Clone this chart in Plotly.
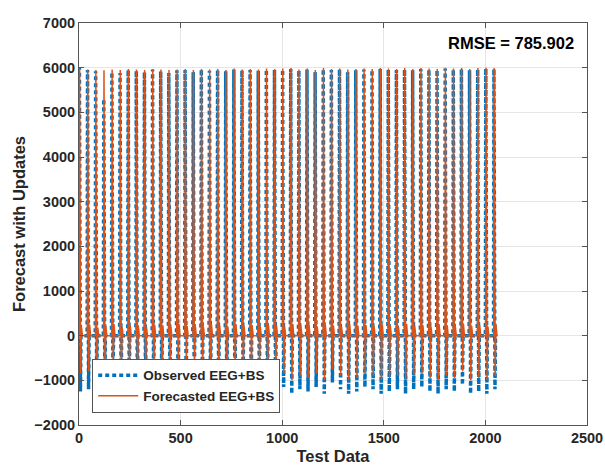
import plotly.graph_objects as go

# ---- data ----
spike_x = [0, 40, 80, 120, 160, 200, 240, 280, 320, 360, 400, 440, 480, 520, 560, 600,
           640, 680, 720, 760, 800, 840, 880, 920, 960, 1000, 1040, 1080, 1120, 1160, 1200,
           1240, 1280, 1320, 1360, 1400, 1440, 1480, 1520, 1560, 1600, 1640, 1680, 1720,
           1760, 1800, 1840, 1880, 1920, 1960, 2000, 2040]
obs_peak = [6000, 5950, 5920, 5300, 5900, 5880, 5950, 5930, 5900, 5960, 5920, 5880, 5940,
            5950, 5900, 5960, 5930, 5950, 5920, 5960, 5940, 5950, 5930, 5960, 5950, 5960,
            5970, 5940, 5960, 5900, 5970, 5950, 5960, 5900, 5940, 5960, 5950, 5970, 5960,
            5950, 5960, 5940, 5970, 5960, 5950, 5980, 5960, 5970, 5940, 5960, 5980, 5970]
obs_trough = [-1250, -1200, -1100, -1150, -1050, -1200, -1100, -1250, -1000, -1150, -1200,
              -1100, -1250, -1050, -1200, -1150, -1250, -1100, -1200, -1300, -1150, -1250,
              -1100, -1200, -1250, -1150, -1300, -1200, -1250, -1150, -1300, -1050, -1200,
              -1300, -1250, -1150, -1200, -1300, -1250, -1200, -1300, -1200, -1150, -1250,
              -1300, -1200, -1250, -1100, -1300, -1250, -1300, -1200]
fc_peak = [5980, 5960, 5950, 5940, 5960, 5950, 5970, 5960, 5950, 5970, 5960, 5950, 5960,
           5970, 5950, 5970, 5960, 5970, 5950, 5980, 5960, 5970, 5960, 5980, 5970, 5980,
           5990, 5960, 5980, 5950, 5990, 5970, 5980, 5960, 5970, 5980, 5970, 5990, 5980,
           5970, 5990, 5970, 5990, 5980, 5970, 6000, 5980, 5990, 5970, 5990, 6000, 5990]
fc_trough = [-850, -800, -750, -900, -700, -850, -800, -900, -700, -850, -900, -800, -950,
             -750, -900, -850, -950, -800, -900, -1000, -850, -950, -800, -900, -950, -850,
             -1000, -900, -950, -850, -1000, -750, -900, -1000, -950, -850, -900, -1000,
             -950, -900, -1000, -900, -850, -950, -1000, -900, -950, -800, -1000, -950,
             -1000, -900]
fc_bump = [200, 250, 180, 220, 260, 200, 240, 210, 190, 250, 230, 200, 260, 220, 240, 210,
           250, 230, 200, 260, 220, 240, 210, 250, 230, 200, 260, 220, 240, 210, 250, 230,
           200, 260, 220, 240, 210, 250, 230, 200, 260, 220, 240, 210, 250, 230, 200, 260,
           220, 240, 210, 250]
end_x = 2048
rmse_text = "RMSE = 785.902"

# ---- build line vertices from the spike tables ----
ox, oy, fx, fy = [], [], [], []
for s, p, t, fp, ft, fb in zip(spike_x, obs_peak, obs_trough, fc_peak, fc_trough, fc_bump):
    ox += [s, s + 2, s + 7, s + 10]
    oy += [0, p, t, 0]
    fx += [s + 1, s + 3, s + 8, s + 12, s + 17]
    fy += [0, fp, ft, fb, 0]
ox.append(end_x); oy.append(0)
fx.append(end_x); fy.append(0)

BLUE = "#0072BD"
ORANGE = "#D95319"
FONT = "Liberation Sans, Arial, sans-serif"
TXT = "#262626"

fig = go.Figure()
fig.add_trace(go.Scatter(x=ox, y=oy, mode="lines", name="Observed EEG+BS",
                         line=dict(color=BLUE, width=3.5, dash="4px,3px")))
fig.add_trace(go.Scatter(x=fx, y=fy, mode="lines", name="Forecasted EEG+BS",
                         line=dict(color=ORANGE, width=1.5)))

axis_common = dict(showgrid=True, gridcolor="#e6e6e6", gridwidth=1, automargin=False,
                   showline=True, linecolor="#555555", linewidth=1, mirror="ticks",
                   ticks="inside", ticklen=5, tickcolor="#555555", zeroline=False,
                   tickfont=dict(family=FONT, size=14.5, color=TXT, weight="bold"))

fig.update_layout(
    width=605, height=466,
    margin=dict(l=79, r=18, t=23, b=41),
    paper_bgcolor="white", plot_bgcolor="white",
    showlegend=True,
    legend=dict(x=0.026, y=0.03, xanchor="left", yanchor="bottom",
                bgcolor="white", bordercolor="#555555", borderwidth=1,
                font=dict(family=FONT, size=13.5, color=TXT, weight="bold"),
                tracegroupgap=0, itemwidth=40),
    xaxis=dict(range=[0, 2500], tickvals=[0, 500, 1000, 1500, 2000, 2500],
               title=dict(text="Test Data", standoff=5,
                          font=dict(family=FONT, size=16.5, color=TXT, weight="bold")),
               **axis_common),
    yaxis=dict(range=[-2000, 7000], dtick=1000,
               title=dict(text="Forecast with Updates", standoff=4,
                          font=dict(family=FONT, size=16.5, color=TXT, weight="bold")),
               **axis_common),
    annotations=[dict(text=rmse_text, xref="paper", yref="paper", x=0.979, y=0.95,
                      xanchor="right", yanchor="middle", showarrow=False,
                      font=dict(family=FONT, size=16.5, color="black", weight="bold"))],
)

fig.write_html("out.html", config={"displayModeBar": False},
               post_script="document.body.style.margin='0px';document.body.style.overflow='hidden';")
